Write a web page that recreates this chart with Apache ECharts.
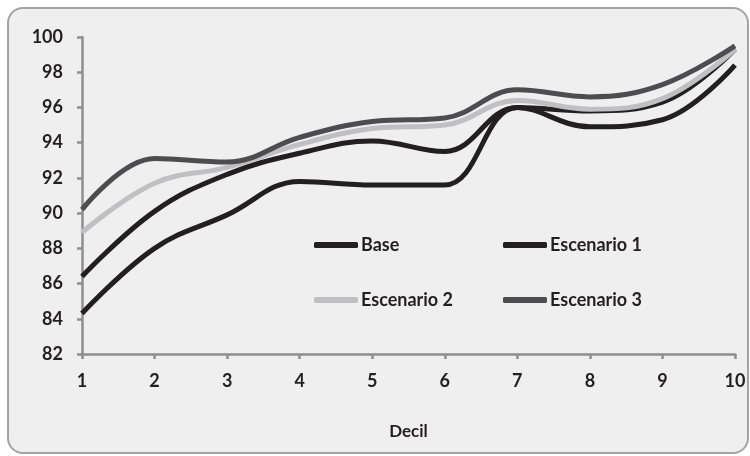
<!DOCTYPE html>
<html>
<head>
<meta charset="utf-8">
<script src="https://cdn.jsdelivr.net/npm/echarts@6/dist/echarts.min.js"></script>
<style>
  html, body { margin:0; padding:0; background:#ffffff; }
  #bg { position:absolute; left:7px; top:7px; width:742px; height:447px; box-sizing:border-box;
        border:2px solid #a3a3a3; border-radius:16px; background:#efefef; }
  #chart { position:absolute; left:0; top:0; width:750px; height:456px; }
</style>
</head>
<body>
<div id="bg"></div>
<div id="chart"></div>
<script>
const categories = ['1','2','3','4','5','6','7','8','9','10'];
const seriesNames = ['Base','Escenario 1','Escenario 2','Escenario 3'];
const base       = [84.3, 88.0, 89.9, 91.8, 91.6, 91.6, 96.0, 94.9, 95.3, 98.4];
const escenario1 = [86.4, 90.1, 92.2, 93.4, 94.1, 93.5, 96.0, 95.8, 96.3, 99.3];
const escenario2 = [88.9, 91.7, 92.6, 93.9, 94.8, 95.0, 96.4, 95.9, 96.5, 99.3];
const escenario3 = [90.2, 93.1, 92.9, 94.3, 95.2, 95.4, 97.0, 96.6, 97.3, 99.5];
const yTicks = { min: 82, max: 100, interval: 2 };

const colors = ['#231f20', '#231f20', '#c0c0c2', '#4d4d4f'];
const values = [base, escenario1, escenario2, escenario3];
const FONT = 'Lato';
const TXT = '#231f20';
const AX = '#8f8f8f';

const chart = echarts.init(document.getElementById('chart'), null, { renderer: 'canvas' });

const legendPos = [
  { left: 314, top: 236 },
  { left: 503, top: 236 },
  { left: 314, top: 291 },
  { left: 503, top: 291 }
];

chart.setOption({
  backgroundColor: 'transparent',
  animation: false,
  grid: { left: 82, right: 15, top: 37, bottom: 102 },
  legend: seriesNames.map((n, i) => ({
    data: [n],
    left: legendPos[i].left,
    top: legendPos[i].top,
    padding: 0,
    icon: 'roundRect',
    itemWidth: 44,
    itemHeight: 6,
    itemGap: 4,
    textStyle: { fontFamily: FONT, fontSize: 18, fontWeight: 'bold', color: TXT, padding: [0,0,0,-2] }
  })),
  xAxis: {
    type: 'category',
    data: categories,
    boundaryGap: false,
    name: 'Decil',
    nameLocation: 'middle',
    nameGap: 69,
    nameTextStyle: { fontFamily: FONT, fontSize: 17, fontWeight: 'bold', color: TXT },
    axisLine: { lineStyle: { color: AX, width: 2.5 } },
    axisTick: { show: true, length: 5, lineStyle: { color: AX, width: 2.5 } },
    axisLabel: { margin: 18, fontFamily: FONT, fontSize: 18, fontWeight: 'bold', color: TXT }
  },
  yAxis: {
    type: 'value',
    min: yTicks.min, max: yTicks.max, interval: yTicks.interval,
    axisLine: { show: true, lineStyle: { color: AX, width: 2.5 } },
    axisTick: { show: true, length: 5, lineStyle: { color: AX, width: 2.5 } },
    splitLine: { show: false },
    axisLabel: { margin: 19, fontFamily: FONT, fontSize: 18, fontWeight: 'bold', color: TXT }
  },
  series: seriesNames.map((n, i) => ({
    name: n,
    type: 'line',
    data: values[i],
    smooth: 0.4,
    symbol: 'none',
    showSymbol: false,
    color: colors[i],
    lineStyle: { width: 5, color: colors[i] },
    z: 2 + i
  }))
});
</script>
</body>
</html>
